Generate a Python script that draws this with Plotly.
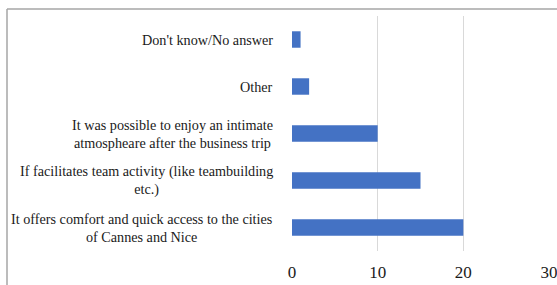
import plotly.graph_objects as go

categories = [
    "Don't know/No answer",
    "Other",
    "It was possible to enjoy an intimate<br>atmospheare after the business trip",
    "If facilitates team activity (like teambuilding<br>etc.)",
    "It offers comfort and quick access to the cities<br>of Cannes and Nice",
]
values = [1, 2, 10, 15, 20]
x_ticks = [0, 10, 20, 30]

W, H = 557, 285
L, R, T, B = 292, 8, 16, 34
pw = W - L - R
ph = H - T - B

fig = go.Figure()
fig.add_trace(go.Bar(
    y=list(range(len(categories))), x=values, orientation="h",
    marker=dict(color="#4472C4", line=dict(width=0)),
    width=0.35, hoverinfo="skip",
))

annotations = []
for i, c in enumerate(categories):
    annotations.append(dict(
        x=(275 - L) / pw, xref="paper", y=i, yref="y",
        text=c, showarrow=False, xanchor="right", yanchor="middle", align="center",
        font=dict(family="Liberation Serif, Times New Roman, serif", size=14.2, color="#1a1a1a"),
    ))

bx = (7 - L) / pw
by = 1 + (T - 9) / ph
shapes = [
    dict(type="line", xref="paper", yref="paper", x0=bx, x1=2, y0=by, y1=by,
         line=dict(color="#a6a6a6", width=1.5)),
    dict(type="line", xref="paper", yref="paper", x0=bx, x1=bx, y0=by, y1=-1,
         line=dict(color="#a6a6a6", width=1.5)),
]

fig.update_layout(
    width=W, height=H,
    margin=dict(l=L, r=R, t=T, b=B, pad=0, autoexpand=False),
    paper_bgcolor="white", plot_bgcolor="white",
    showlegend=False,
    annotations=annotations,
    shapes=shapes,
    xaxis=dict(
        range=[0, 30], tickvals=x_ticks, ticktext=[str(v) for v in x_ticks],
        showgrid=True, gridcolor="#d9d9d9", gridwidth=1,
        zeroline=False, showline=False, ticks="",
        ticklabelstandoff=9, automargin=False, ticklabeloverflow="allow",
        tickfont=dict(family="Liberation Serif, serif", size=17, color="#1a1a1a"),
    ),
    yaxis=dict(
        range=[4.5, -0.5], showticklabels=False, showgrid=False, zeroline=False,
        showline=False, ticks="", automargin=False,
    ),
)

fig.write_html("out.html", config={"displayModeBar": False},
               post_script="document.body.style.margin='0';")
